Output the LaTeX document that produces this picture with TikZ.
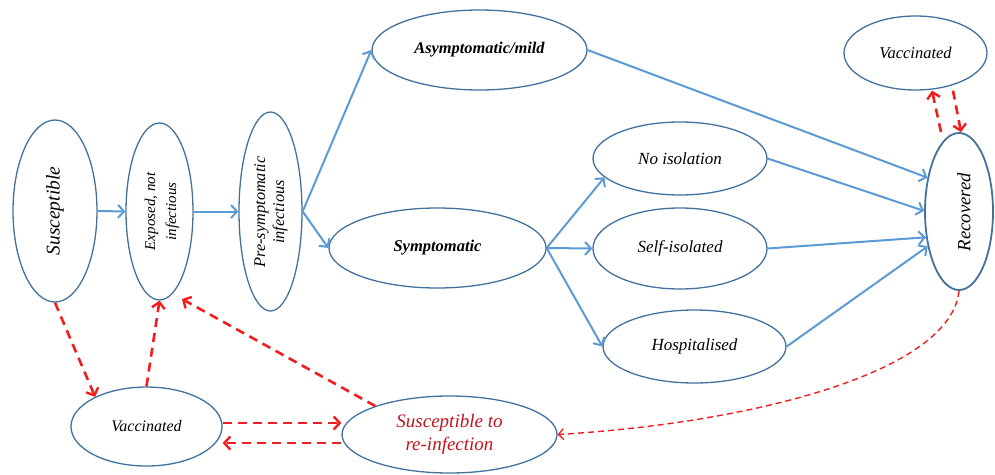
\documentclass[tikz,border=0pt]{standalone}
\usepackage{fontspec}
\setmainfont{Liberation Serif}
\usetikzlibrary{shapes.geometric,arrows.meta,calc}

\definecolor{edgeblue}{HTML}{41719C}
\definecolor{flowblue}{HTML}{5B9BD5}
\definecolor{flowred}{HTML}{F01E1E}
\definecolor{darkred}{HTML}{C0141C}

\tikzset{
  state/.style={ellipse, draw=edgeblue, line width=1.3pt, inner sep=0pt, align=center},
  txt/.style={font=\fontsize{#1}{21}\selectfont\itshape},
  btxt/.style={font=\fontsize{#1}{21}\selectfont\bfseries\itshape},
  vlbl/.style={rotate=90, inner sep=0pt, align=center},
  flow/.style={draw=flowblue, line width=2pt,
    -{Straight Barb[length=6pt,width=13pt,line width=2pt]}},
  vacflow/.style={draw=flowred, line width=2.6pt, dash pattern=on 9pt off 6pt,
    -{Straight Barb[length=6pt,width=13pt,line width=2.4pt]}},
  backflow/.style={draw=flowred, line width=1.4pt, dash pattern=on 6pt off 4pt,
    -{Straight Barb[length=5pt,width=11pt,line width=1.3pt]}},
}

\begin{document}
\begin{tikzpicture}[x=1pt,y=-1pt]
\useasboundingbox (0,0) rectangle (995,474);

% disease states
\node[state, minimum width=84pt, minimum height=182pt] (sus) at (55,211) {};
\node[vlbl, txt=19.5] (sus-t) at (sus) {Susceptible};

\node[state, minimum width=67pt, minimum height=177pt] (exp) at (159.5,211.5) {};
\node[vlbl, font=\fontsize{15}{21}\selectfont\itshape] (exp-t) at (162,211.5) {Exposed, not\\infectious};

\node[state, minimum width=63pt, minimum height=199pt] (pre) at (270.5,211.5) {};
\node[vlbl, font=\fontsize{16.3}{19}\selectfont\itshape] (pre-t) at (271,212) {Pre-symptomatic\\infectious};

\node[state, btxt=16.4, minimum width=215pt, minimum height=80pt] (asym) at (479.5,50) {Asymptomatic/mild};
\node[state, btxt=16.5, minimum width=217pt, minimum height=80pt] (symp) at (437.5,248) {Symptomatic};

\node[state, txt=17, minimum width=174pt, minimum height=73pt] (noiso) at (680,158.5) {No isolation};
\node[state, txt=17, minimum width=174pt, minimum height=81pt] (selfiso) at (680,248.5) {Self-isolated};
\node[state, txt=17, minimum width=183pt, minimum height=73pt] (hosp) at (694.5,346.5) {Hospitalised};

\node[state, line width=1.8pt, minimum width=68pt, minimum height=157pt] (rec) at (959,211.5) {};
\node[vlbl, txt=18.7] (rec-t) at (964,212) {Recovered};

\node[state, txt=16.5, minimum width=143pt, minimum height=74pt] (tvac) at (915.5,53) {Vaccinated};
\node[state, txt=16, minimum width=151pt, minimum height=79pt] (vacc) at (146.5,426.5) {Vaccinated};
\node[state, font=\fontsize{19}{23}\selectfont\itshape, text=darkred,
      minimum width=215pt, minimum height=77pt] (reinf) at (449.5,434.5) {Susceptible to\\re-infection};

\coordinate (expin) at (182,299);

% infection pathway
\draw[flow] (sus.east) -- (exp.west);
\draw[flow] (exp.east) -- (pre.west);
\draw[flow] (pre.east) -- (asym.west);
\draw[flow] (pre.east) -- (symp.west);
\draw[flow] (symp.east) -- (noiso.194);
\draw[flow] (symp.east) -- (selfiso.west);
\draw[flow] (symp.east) -- (hosp.west);
\draw[flow] (asym.east) -- (rec.133);
\draw[flow] (noiso.east) -- (rec.179);
\draw[flow] (selfiso.east) -- (rec.218);
\draw[flow] (hosp.east) -- (rec.228);

% vaccination and waning immunity
\draw[vacflow] (sus.south) -- (vacc.150);
\draw[vacflow] (vacc.north) -- (exp.south);
\draw[vacflow] (reinf.159) -- (expin);
\draw[vacflow] ([yshift=3.5pt]vacc.east) -- ([yshift=11.5pt]reinf.west);
\draw[vacflow] ([yshift=-8.5pt]reinf.west) -- ([yshift=-16.5pt]vacc.east);
\draw[vacflow] ([xshift=37.5pt]tvac.south) -- ([xshift=2pt]rec.north);
\draw[vacflow] ([xshift=-18pt]rec.north) -- ([xshift=16.5pt]tvac.south);
\draw[backflow] (rec.south) .. controls ($(rec.south)+(-8,80)$) and ($(reinf.east)+(200,-12)$) .. (reinf.east);
\end{tikzpicture}
\end{document}
